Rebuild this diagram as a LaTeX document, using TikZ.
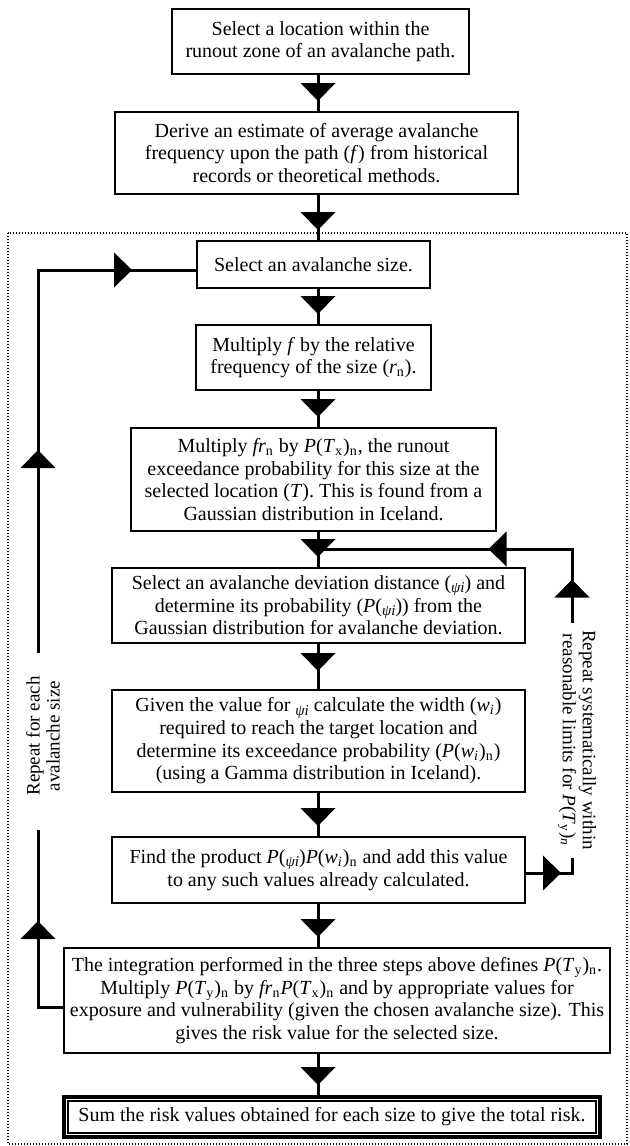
\documentclass[tikz,border=0pt]{standalone}
\usepackage{fontspec}
\setmainfont{Liberation Serif}
\usetikzlibrary{decorations.markings,calc}

\newcommand{\myn}{\textsubscript{n}}
\newcommand{\myPx}{\textit{P}(\textit{T}\textsubscript{x})\textsubscript{n}}
\newcommand{\myPy}{\textit{P}(\textit{T}\textsubscript{y})\textsubscript{n}}
\newcommand{\mywi}{\textit{w}\textsubscript{\textit{i}}}
\newcommand{\mypsi}{\raisebox{-0.35ex}{\fontsize{7.5}{8}\selectfont\itshape ψi}}

\tikzset{
  box/.style={draw, line width=1pt, align=center, inner sep=1pt,
    font=\fontsize{10}{11.3}\selectfont},
  lab/.style={align=center, inner sep=0pt, font=\fontsize{9.5}{10}\selectfont},
  conn/.style={line width=1.5pt},
  tri/.style={postaction={decorate, decoration={markings,
    mark=at position #1 with {\fill (4.5pt,0pt) -- (-4.5pt,8.75pt) -- (-4.5pt,-8.75pt) -- cycle;}}}},
  dotframe/.style={line width=0.6pt, dash pattern=on 0.6pt off 0.9pt},
}

\begin{document}
\begin{tikzpicture}[x=0.5pt, y=-0.5pt]
\useasboundingbox (0,0) rectangle (629,1146);

% dotted frame of the loop region
\draw[dotframe] (8,233) rectangle (627,1144);

% boxes
\node[box, minimum width=148.5pt, minimum height=32.5pt] (b1) at (320.5,41.5)
  {Select a location within the\\runout zone of an avalanche path.};
\node[box, minimum width=201.5pt, minimum height=41pt] (b2) at (316.5,153)
  {Derive an estimate of average avalanche\\frequency upon the path (\textit{f}) from historical\\records or theoretical methods.};
\node[box, minimum width=116.5pt, minimum height=23.5pt] (b3) at (313.5,264.5)
  {Select an avalanche size.};
\node[box, minimum width=117.5pt, minimum height=32.5pt] (b4) at (313.5,357.5)
  {Multiply \textit{f} by the relative\\frequency of the size (\textit{r}\myn).};
\node[box, minimum width=182.5pt, minimum height=51.5pt] (b5) at (313.5,479.5)
  {Multiply \textit{fr}\myn{} by \myPx, the runout\\exceedance probability for this size at the\\selected location (\textit{T}). This is found from a\\Gaussian distribution in Iceland.};
\node[box, minimum width=206.5pt, minimum height=37.5pt] (b6) at (318.5,605.5)
  {Select an avalanche deviation distance (\mypsi) and\\determine its probability (\textit{P}(\mypsi)) from the\\Gaussian distribution for avalanche deviation.};
\node[box, minimum width=206.5pt, minimum height=51pt] (b7) at (318.5,741)
  {Given the value for \mypsi{} calculate the width (\mywi)\\required to reach the target location and\\determine its exceedance probability (\textit{P}(\mywi)\myn)\\(using a Gamma distribution in Iceland).};
\node[box, minimum width=206.5pt, minimum height=33pt] (b8) at (318.5,870)
  {Find the product \textit{P}(\mypsi)\textit{P}(\mywi)\myn{} and add this value\\to any such values already calculated.};
\node[box, minimum width=273pt, minimum height=52.5pt] (b9) at (337,1000.5)
  {The integration performed in the three steps above defines \myPy.\\Multiply \myPy{} by \textit{fr}\myn\myPx{} and by appropriate values for\\exposure and vulnerability (given the chosen avalanche size). This\\gives the risk value for the selected size.};
\node[box, line width=2pt, minimum width=268pt, minimum height=20pt] (b10) at (332,1117)
  {Sum the risk values obtained for each size to give the total risk.};
\draw[line width=0.7pt] ($(b10.south west)+(3pt,3pt)$) rectangle ($(b10.north east)+(-3pt,-3pt)$);

% side labels
\node[lab, rotate=90] (lL) at (43,736) {Repeat for each\\avalanche size};
\node[lab, rotate=-90] (lR) at (577,740)
  {Repeat systematically within\\reasonable limits for \textit{P}(\textit{T}\textsubscript{y})\textsubscript{\textit{n}}};

% main column connectors
\coordinate (cx) at (318,0);
\draw[conn, tri=-9.5pt] (b1.south -| cx) -- (b2.north -| cx);
\draw[conn, tri=-9.5pt] (b2.south -| cx) -- (b3.north -| cx);
\draw[conn, tri=-9.5pt] (b3.south -| cx) -- (b4.north -| cx);
\draw[conn, tri=-9.5pt] (b4.south -| cx) -- (b5.north -| cx);
\draw[conn, tri=-9.5pt] (b5.south -| cx) -- (b6.north -| cx);
\draw[conn, tri=9pt] (b6.south -| cx) -- (b7.north -| cx);
\draw[conn, tri=-9.5pt] (b7.south -| cx) -- (b8.north -| cx);
\draw[conn, tri=-9.5pt] (b8.south -| cx) -- (b9.north -| cx);
\draw[conn, tri=-9.5pt] (b9.south -| cx) -- (b10.north -| cx);

% left loop: repeat for each avalanche size
\coordinate (L1) at (38,1007);
\coordinate (Lbot) at (38,830);
\coordinate (Ltop) at (38,653);
\coordinate (L2) at (38,270);
\draw[conn, tri=51pt] (b9.west |- L1) -- (L1) -- (Lbot);
\draw[conn, tri=97pt, tri=234pt] (Ltop) -- (L2) -- (b3.west |- L2);

% right loop: repeat within reasonable limits
\coordinate (R1) at (572,873);
\coordinate (Rbot) at (572,858);
\coordinate (Rtop) at (572,623);
\coordinate (R2) at (572,549);
\coordinate (J) at (318,549);
\draw[conn, tri=13pt] (b8.east |- R1) -- (R1) -- (Rbot);
\draw[conn, tri=17.25pt, tri=74.25pt] (Rtop) -- (R2) -- (J);
\end{tikzpicture}
\end{document}
